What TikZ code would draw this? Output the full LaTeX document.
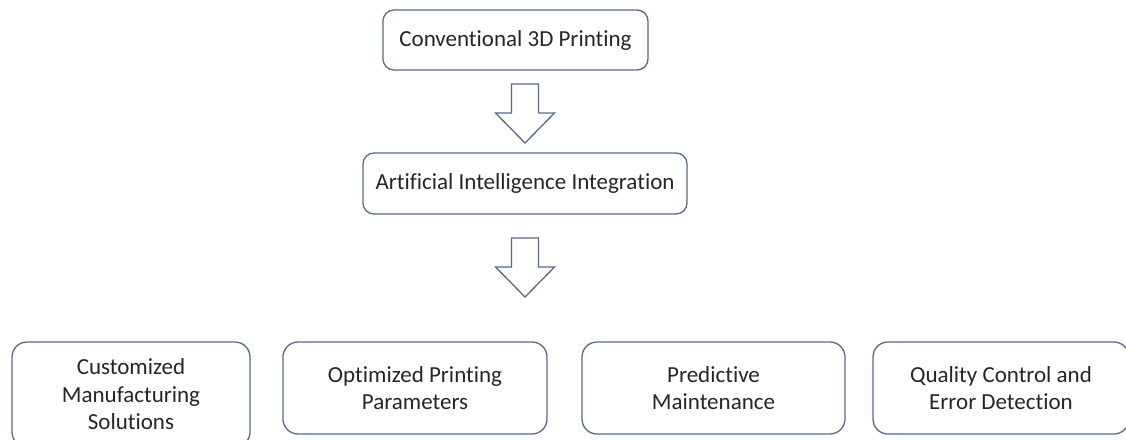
\documentclass[tikz,border=0pt]{standalone}
\usepackage{fontspec}
\setmainfont{Carlito}[Ligatures=NoCommon]
\definecolor{edge}{RGB}{88,106,138}
\definecolor{txt}{RGB}{38,38,38}
\begin{document}
\begin{tikzpicture}[x=1pt,y=-1pt,
  box/.style={draw=edge, line width=1.3pt, fill=white, rounded corners=11pt, align=center,
    text=txt, font=\fontsize{23}{27.5}\selectfont, inner sep=0pt},
  arrowline/.style={draw=edge, line width=1.3pt, fill=white, line join=miter},
  downarrow/.pic={\path[arrowline] (-13.5,0) -- (13.5,0) -- (13.5,29) -- (29.5,29) -- (0,59) -- (-29.5,29) -- (-13.5,29) -- cycle;}
]
\useasboundingbox (0,0) rectangle (1126,439);
\begin{scope}
\clip (0,0) rectangle (1126,439);
\node[box, minimum width=265pt, minimum height=60pt] (conv) at (515.5,40) {Conventional 3D Printing};
\node[box, minimum width=324pt, minimum height=61pt] (ai) at (525,183.5) {Artificial Intelligence Integration};
\node[box, rounded corners=15pt, minimum width=238pt, minimum height=105pt] (cust) at (131,394.5) {Customized\\Manufacturing\\Solutions};
\node[box, rounded corners=15pt, minimum width=264pt, minimum height=92pt] (opt) at (415,388) {Optimized Printing\\Parameters};
\node[box, rounded corners=15pt, minimum width=263pt, minimum height=92pt] (pred) at (713.5,388) {Predictive\\Maintenance};
\node[box, rounded corners=15pt, minimum width=256pt, minimum height=92pt] (qual) at (1001,388) {Quality Control and\\Error Detection};
\coordinate (a1) at (525,84);
\coordinate (a2) at (525,238);
\pic at (a1) {downarrow};
\pic at (a2) {downarrow};
\end{scope}
\end{tikzpicture}
\end{document}
